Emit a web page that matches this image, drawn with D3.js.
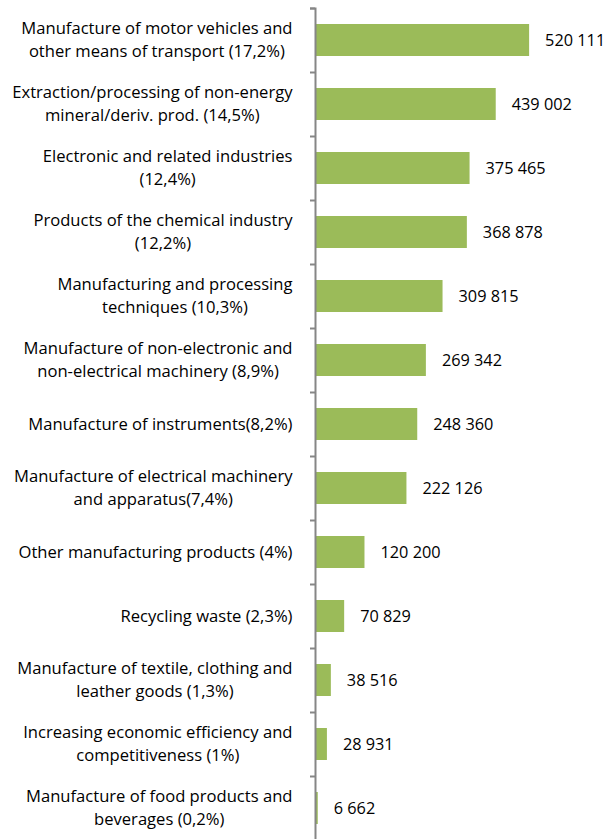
<!DOCTYPE html>
<html><head><meta charset="utf-8">
<script src="https://cdn.jsdelivr.net/npm/d3@7"></script>
<style>body{margin:0;background:#fff}svg{display:block}</style>
</head><body>
<script>
const categories = [
  ["Manufacture of motor vehicles and","other means of transport (17,2%)"],
  ["Extraction/processing of non-energy","mineral/deriv. prod. (14,5%)"],
  ["Electronic and related industries","(12,4%)"],
  ["Products of the chemical industry","(12,2%)"],
  ["Manufacturing and processing","techniques (10,3%)"],
  ["Manufacture of non-electronic and","non-electrical machinery (8,9%)"],
  ["Manufacture of instruments(8,2%)"],
  ["Manufacture of electrical machinery","and apparatus(7,4%)"],
  ["Other manufacturing products (4%)"],
  ["Recycling waste (2,3%)"],
  ["Manufacture of textile, clothing and","leather goods (1,3%)"],
  ["Increasing economic efficiency and","competitiveness (1%)"],
  ["Manufacture of food products and","beverages (0,2%)"]
];
const values = [520111,439002,375465,368878,309815,269342,248360,222126,120200,70829,38516,28931,6662];

const W = 608, H = 839;
const svg = d3.select("body").append("svg").attr("width", W).attr("height", H);
const font = "'Open Sans', sans-serif";

const x = d3.scaleLinear().domain([0, 600000]).range([315, 562]);
const y = d3.scaleBand().domain(d3.range(categories.length)).range([8, 8 + 64 * categories.length]).paddingInner(0.5).paddingOuter(0.25);

// bars
svg.append("g").selectAll("rect").data(values).join("rect")
  .attr("x", x(0)).attr("y", (d, i) => y(i))
  .attr("width", d => x(d) - x(0)).attr("height", y.bandwidth())
  .attr("fill", "#9BBB59");

// axis
const yAxis = d3.axisLeft(d3.scaleLinear().domain([0, categories.length]).range([8, 8 + 64 * categories.length]))
  .ticks(categories.length).tickFormat("").tickSize(5).tickSizeOuter(5);
const ag = svg.append("g").attr("transform", `translate(${x(0)},0)`).call(yAxis);
ag.selectAll("path,line").attr("stroke", "#868686").attr("stroke-width", 2);

// value labels
const fmt = d => d3.format(",")(d).replace(/,/g, " ");
svg.append("g").selectAll("text").data(values).join("text")
  .attr("x", d => x(d) + 16).attr("y", (d, i) => y(i) + y.bandwidth() / 2)
  .attr("dy", "0.35em")
  .attr("font-family", font).attr("font-size", 16.3).attr("fill", "#000")
  .text(fmt);

// category labels
const lineH = 23.3;
const right = 292.5;
categories.forEach((lines, i) => {
  const cy = y(i) + y.bandwidth() / 2;
  const g = svg.append("g");
  const ts = lines.map((t, j) => g.append("text")
    .attr("y", cy + (j - (lines.length - 1) / 2) * lineH)
    .attr("dy", "0.35em")
    .attr("font-family", font).attr("font-size", 16.6).attr("fill", "#000")
    .attr("text-anchor", "middle").text(t));
  const maxW = d3.max(ts, t => t.node().getComputedTextLength());
  ts.forEach(t => t.attr("x", right - maxW / 2));
});
</script>
</body></html>
